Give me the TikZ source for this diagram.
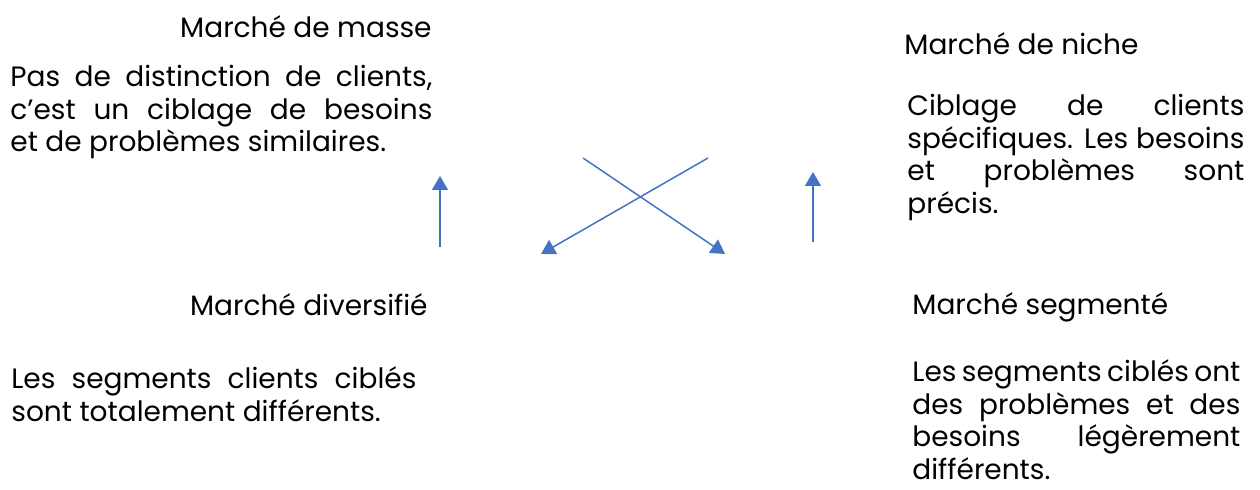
\documentclass[tikz,border=0pt]{standalone}
\usepackage{fontspec}
\setmainfont{Poppins}
\usepackage{tikz}
\usetikzlibrary{positioning, arrows.meta}
\definecolor{bleuFleche}{HTML}{4472C4}
\hyphenpenalty=10000
\exhyphenpenalty=10000
\hfuzz=20pt

\begin{document}
\begin{tikzpicture}[
    x=0.5pt, y=-0.5pt,
    titre/.style={font=\fontsize{14}{16}\selectfont, inner sep=0pt},
    texte/.style={font=\fontsize{14}{16.2}\selectfont, align=justify, inner sep=0pt},
    serre/.style={execute at begin node={\spaceskip=0.2em plus 0.4em minus 0.1em}},
    fleche/.style={-{Triangle[width=8pt, length=7pt]}, line width=0.75pt, bleuFleche}
]
    \useasboundingbox (0,0) rectangle (1260,490);

    % Les quatre marchés
    \node[titre, anchor=base east] (masse) at (432,38) {Marché de masse};
    \node[titre, anchor=base west] (niche) at (904,55) {Marché de niche};
    \node[titre, anchor=base east] (diversifie) at (428,316) {Marché diversifié};
    \node[titre, anchor=base west] (segmente) at (912,315) {Marché segmenté};

    % Les descriptions
    \node[texte, text width=211pt, anchor=base west] (txtMasse) at (10,87)
        {Pas de distinction de clients,\linebreak c’est un ciblage de besoins\linebreak et de problèmes similaires.};
    \node[texte, text width=168.5pt, anchor=base west] (txtNiche) at (907,116)
        {Ciblage de clients\linebreak spécifiques. Les besoins\linebreak et problèmes sont\linebreak précis.};
    \node[texte, text width=202.5pt, anchor=base west] (txtDiversifie) at (11,389)
        {Les segments clients ciblés\linebreak sont totalement différents.};
    \node[texte, serre, text width=164pt, anchor=base west] (txtSegmente) at (912,382)
        {Les segments ciblés ont\linebreak des problèmes et des\linebreak besoins légèrement\linebreak différents.};

    % Les flèches
    \coordinate (gBas) at (440,247);
    \coordinate (gHaut) at (440,176);
    \coordinate (dBas) at (813,242);
    \coordinate (dHaut) at (813,172);
    \coordinate (xA) at (583,158);
    \coordinate (xB) at (725,254);
    \coordinate (xC) at (708,158);
    \coordinate (xD) at (541,254);

    \draw[fleche] (gBas) -- (gHaut);
    \draw[fleche] (dBas) -- (dHaut);
    \draw[fleche] (xA) -- (xB);
    \draw[fleche] (xC) -- (xD);
\end{tikzpicture}
\end{document}
